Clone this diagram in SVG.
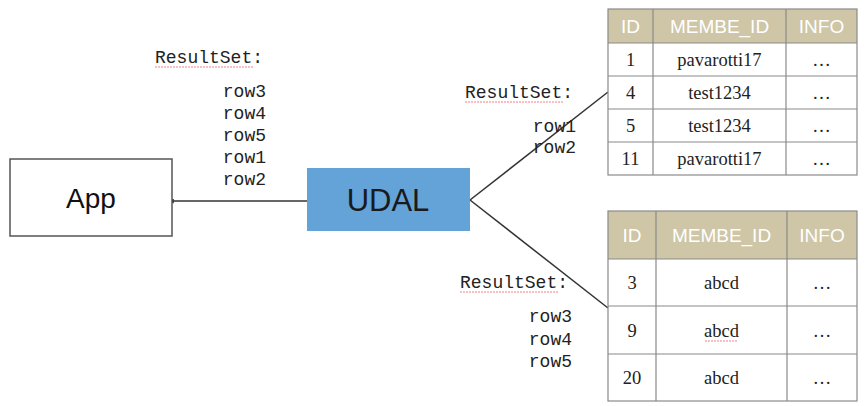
<svg xmlns="http://www.w3.org/2000/svg" width="865" height="406" viewBox="0 0 865 406">
<defs>
<style>
.mono{font-family:"Liberation Mono","Courier New",monospace;font-size:18px;fill:#222}
.box{fill:#fff;stroke:#555;stroke-width:1.5}
.hdr{fill:#cec6a7}
.grid{fill:none;stroke:#8a8a8a;stroke-width:1.2}
.ht{font-family:"Liberation Sans",Arial,sans-serif;font-size:19px;fill:#fff;text-anchor:middle}
.bt{font-family:"Liberation Serif","Times New Roman",serif;font-size:18.5px;fill:#222;text-anchor:middle}
.conn{stroke:#333;stroke-width:1.5;fill:none}
.sq{stroke:#f08080;stroke-width:1;fill:none;stroke-dasharray:2 1}
</style>
<marker id="arr" viewBox="0 0 6 6" refX="1" refY="3" markerWidth="5" markerHeight="5" orient="auto-start-reverse" markerUnits="userSpaceOnUse">
<path d="M0,0 L6,3 L0,6 z" fill="#333"/>
</marker>
</defs>
<rect width="865" height="406" fill="#fff"/>

<g id="connectors">
<line class="conn" x1="307" y1="201" x2="173" y2="201" marker-end="url(#arr)"/>
<line class="conn" x1="470" y1="200" x2="608" y2="92"/>
<line class="conn" x1="470" y1="200" x2="608" y2="308"/>
</g>

<g id="labels">
<text class="mono" x="155" y="63">ResultSet:</text>
<path class="sq" d="M155,67 H253"/>
<text class="mono" text-anchor="end" x="266" y="97">row3</text>
<text class="mono" text-anchor="end" x="266" y="119">row4</text>
<text class="mono" text-anchor="end" x="266" y="141">row5</text>
<text class="mono" text-anchor="end" x="266" y="163">row1</text>
<text class="mono" text-anchor="end" x="266" y="185">row2</text>

<text class="mono" x="465" y="98">ResultSet:</text>
<path class="sq" d="M465,102 H563"/>
<text class="mono" text-anchor="end" x="576" y="132">row1</text>
<text class="mono" text-anchor="end" x="576" y="153">row2</text>

<text class="mono" x="460" y="288">ResultSet:</text>
<path class="sq" d="M460,292 H558"/>
<text class="mono" text-anchor="end" x="572" y="322">row3</text>
<text class="mono" text-anchor="end" x="572" y="345">row4</text>
<text class="mono" text-anchor="end" x="572" y="367">row5</text>
</g>

<g id="app">
<rect class="box" x="10" y="159" width="162" height="77"/>
<text x="91" y="208" text-anchor="middle" font-family="'Liberation Sans',Arial,sans-serif" font-size="28" fill="#111">App</text>
</g>

<g id="udal">
<rect x="307" y="168" width="163" height="63" fill="#63a3d8"/>
<text x="388" y="211" text-anchor="middle" font-family="'Liberation Sans',Arial,sans-serif" font-size="31" fill="#1a1a1a">UDAL</text>
</g>

<g id="table1">
<rect class="hdr" x="608" y="9" width="249" height="34"/>
<rect class="grid" x="608" y="9" width="249" height="166"/>
<path class="grid" d="M608,43 H857 M608,76 H857 M608,109 H857 M608,142 H857 M653,9 V175 M786,9 V175"/>
<text class="ht" x="630.5" y="33">ID</text>
<text class="ht" x="719.5" y="33">MEMBE_ID</text>
<text class="ht" x="821.5" y="33">INFO</text>
<text class="bt" x="630.5" y="66">1</text>
<text class="bt" x="719.5" y="66">pavarotti17</text>
<text class="bt" x="821.5" y="66">…</text>
<text class="bt" x="630.5" y="99">4</text>
<text class="bt" x="719.5" y="99">test1234</text>
<text class="bt" x="821.5" y="99">…</text>
<text class="bt" x="630.5" y="132">5</text>
<text class="bt" x="719.5" y="132">test1234</text>
<text class="bt" x="821.5" y="132">…</text>
<text class="bt" x="630.5" y="165">11</text>
<text class="bt" x="719.5" y="165">pavarotti17</text>
<text class="bt" x="821.5" y="165">…</text>
</g>

<g id="table2">
<rect class="hdr" x="608" y="211" width="249" height="48"/>
<rect class="grid" x="608" y="211" width="249" height="190"/>
<path class="grid" d="M608,259 H857 M608,306 H857 M608,354 H857 M656,211 V401 M787,211 V401"/>
<text class="ht" x="632" y="242">ID</text>
<text class="ht" x="721.5" y="242">MEMBE_ID</text>
<text class="ht" x="822" y="242">INFO</text>
<text class="bt" x="632" y="289">3</text>
<text class="bt" x="721.5" y="289">abcd</text>
<text class="bt" x="822" y="289">…</text>
<text class="bt" x="632" y="337">9</text>
<text class="bt" x="721.5" y="337">abcd</text>
<path class="sq" d="M705,341 H738"/>
<text class="bt" x="822" y="337">…</text>
<text class="bt" x="632" y="384">20</text>
<text class="bt" x="721.5" y="384">abcd</text>
<text class="bt" x="822" y="384">…</text>
</g>
</svg>
